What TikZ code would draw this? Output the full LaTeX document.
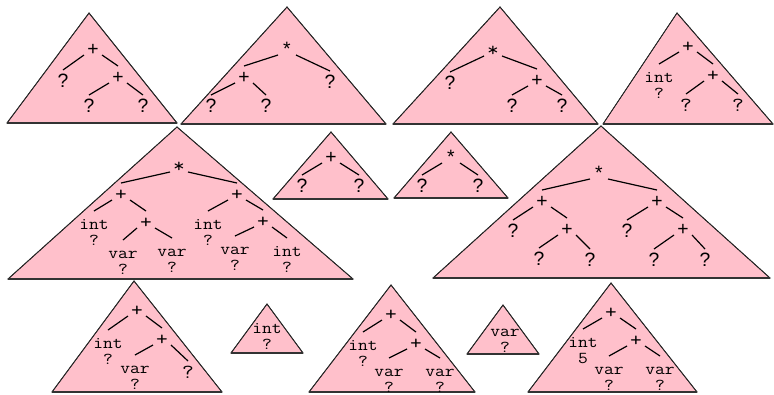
\documentclass[tikz,border=0pt]{standalone}
\usepackage{fontspec}
\setmainfont{Liberation Sans}
\newfontfamily\cour{Latin Modern Mono}[FakeStretch=1.14]
\definecolor{trifill}{RGB}{255,192,203}
\newcommand\tp{\rule{0pt}{8.4pt}}
\tikzset{
  x=0.75pt, y=-0.75pt,
  tri/.style={fill=trifill, draw=black!85, line width=0.6pt, line join=miter},
  base/.style={draw=black!80, line width=1.1pt},
  lab/.style={inner sep=0pt, text height=0.6em, text depth=0pt, anchor=center},
  s/.style={lab, font=\fontsize{14.5}{14.5}\selectfont},
  m/.style={lab, font=\cour\fontsize{15}{15}\selectfont},
  mst/.style={inner sep=0pt, anchor=north, align=center, font=\cour\fontsize{12.5}{12}\selectfont},
  edge/.style={draw=black, line width=0.9pt}
}
\newcommand\edgeL[2]{\draw[edge] ([shift={(-9,4)}]#1.center) -- ([shift={(0,-13)}]#2.center);}
\newcommand\edgeR[2]{\draw[edge] ([shift={(9,4)}]#1.center) -- ([shift={(0,-13)}]#2.center);}
\newcommand\edgeLs[2]{\draw[edge] ([shift={(-9,4)}]#1.center) -- ([shift={(0,-6.6)}]#2.north);}
\newcommand\edgeRs[2]{\draw[edge] ([shift={(9,4)}]#1.center) -- ([shift={(0,-6.6)}]#2.north);}
\newcommand\trig[3]{\fill[tri] #1 -- #2 -- #3 -- cycle; \draw[tri,fill=none] #2 -- #1 -- #3; \draw[base] #2 -- #3;}
\begin{document}
\begin{tikzpicture}
\useasboundingbox (0,0) rectangle (774,394);
% ---------- triangles ----------
\trig{(89,13)}{(7,123)}{(177,123)}
\trig{(287,7)}{(181,124)}{(386,124)}
\trig{(500,7)}{(393,124)}{(598,124)}
\trig{(677,13)}{(603,124)}{(773,124)}
\trig{(177,127)}{(8,279)}{(353,279)}
\trig{(331,132)}{(273,199)}{(388,199)}
\trig{(451,132)}{(394,198)}{(508,198)}
\trig{(601,126)}{(433,278)}{(770,278)}
\trig{(134,281)}{(52,392)}{(222,392)}
\trig{(267,304)}{(231,353)}{(303,353)}
\trig{(391,285)}{(309,392)}{(475,392)}
\trig{(503,305)}{(467,354)}{(539,354)}
\trig{(611,283)}{(528,392)}{(697,392)}
% ---------- T1 ----------
\node[s] (t1a) at (93,51) {+};
\node[s] (t1b) at (63,83) {?};
\node[s] (t1c) at (118,79) {+};
\node[s] (t1d) at (89,108) {?};
\node[s] (t1e) at (143,108) {?};
\edgeL{t1a}{t1b}\edgeR{t1a}{t1c}\edgeL{t1c}{t1d}\edgeR{t1c}{t1e}
% ---------- T2 ----------
\node[s] (t2a) at (287,51) {*};
\node[s] (t2b) at (244,79) {+};
\node[s] (t2c) at (330,84) {?};
\node[s] (t2d) at (211,108) {?};
\node[s] (t2e) at (266,108) {?};
\edgeL{t2a}{t2b}\edgeR{t2a}{t2c}\edgeL{t2b}{t2d}\edgeR{t2b}{t2e}
% ---------- T3 ----------
\node[m] (t3a) at (493,52) {*};
\node[s] (t3b) at (450,85) {?};
\node[s] (t3c) at (537,82) {+};
\node[s] (t3d) at (512,108) {?};
\node[s] (t3e) at (562,108) {?};
\edgeL{t3a}{t3b}\edgeR{t3a}{t3c}\edgeL{t3c}{t3d}\edgeR{t3c}{t3e}
% ---------- T4 ----------
\node[m] (t4a) at (688,48) {+};
\node[mst] (t4b) at (659,70.6) {\tp int\\?};
\node[m] (t4c) at (713,77) {+};
\node[m] (t4d) at (686,107) {?};
\node[m] (t4e) at (738,107) {?};
\edgeLs{t4a}{t4b}\edgeR{t4a}{t4c}\edgeL{t4c}{t4d}\edgeR{t4c}{t4e}
% ---------- B1 ----------
\node[m] (b1a) at (179,168) {*};
\node[m] (b1b) at (121,196) {+};
\node[m] (b1c) at (237,196) {+};
\node[mst] (b1d) at (94,217.6) {\tp int\\?};
\node[m] (b1e) at (146,224) {+};
\node[mst] (b1f) at (123,246.6) {\tp var\\?};
\node[mst] (b1g) at (172,244.6) {\tp var\\?};
\node[mst] (b1h) at (208,217.6) {\tp int\\?};
\node[m] (b1i) at (263,223) {+};
\node[mst] (b1j) at (235,242.6) {\tp var\\?};
\node[mst] (b1k) at (287,244.6) {\tp int\\?};
\edgeL{b1a}{b1b}\edgeR{b1a}{b1c}
\edgeLs{b1b}{b1d}\edgeR{b1b}{b1e}
\edgeLs{b1e}{b1f}\edgeRs{b1e}{b1g}
\edgeLs{b1c}{b1h}\edgeR{b1c}{b1i}
\edgeLs{b1i}{b1j}\edgeRs{b1i}{b1k}
% ---------- S1, S2 ----------
\node[s] (s1a) at (331,159) {+};
\node[s] (s1b) at (302,188) {?};
\node[s] (s1c) at (359,188) {?};
\edgeL{s1a}{s1b}\edgeR{s1a}{s1c}
\node[s] (s2a) at (451,159) {*};
\node[s] (s2b) at (422,188) {?};
\node[s] (s2c) at (478,188) {?};
\edgeL{s2a}{s2b}\edgeR{s2a}{s2c}
% ---------- B2 ----------
\node[s] (b2a) at (599,175) {*};
\node[s] (b2b) at (542,203) {+};
\node[s] (b2c) at (657,203) {+};
\node[s] (b2d) at (513,233) {?};
\node[s] (b2e) at (567,231) {+};
\node[s] (b2f) at (539,261) {?};
\node[s] (b2g) at (590,262) {?};
\node[s] (b2h) at (627,233) {?};
\node[s] (b2i) at (683,231) {+};
\node[s] (b2j) at (654,262) {?};
\node[s] (b2k) at (705,262) {?};
\edgeL{b2a}{b2b}\edgeR{b2a}{b2c}
\edgeL{b2b}{b2d}\edgeR{b2b}{b2e}
\edgeL{b2e}{b2f}\edgeR{b2e}{b2g}
\edgeL{b2c}{b2h}\edgeR{b2c}{b2i}
\edgeL{b2i}{b2j}\edgeR{b2i}{b2k}
% ---------- R1 ----------
\node[m] (r1a) at (137,312) {+};
\node[mst] (r1b) at (108,336.6) {\tp int\\?};
\node[m] (r1c) at (162,341) {+};
\node[mst] (r1d) at (135,361.6) {\tp var\\?};
\node[m] (r1e) at (188,374) {?};
\edgeLs{r1a}{r1b}\edgeR{r1a}{r1c}\edgeLs{r1c}{r1d}\edgeR{r1c}{r1e}
% ---------- R2 ----------
\node[mst] (r2a) at (267,321.6) {\tp int\\?};
% ---------- R3 ----------
\node[m] (r3a) at (391,316) {+};
\node[mst] (r3b) at (363,338.6) {\tp int\\?};
\node[m] (r3c) at (416,345) {+};
\node[mst] (r3d) at (389,364.6) {\tp var\\?};
\node[mst] (r3e) at (440,364.6) {\tp var\\?};
\edgeLs{r3a}{r3b}\edgeR{r3a}{r3c}\edgeLs{r3c}{r3d}\edgeRs{r3c}{r3e}
% ---------- R4 ----------
\node[mst] (r4a) at (505,324.6) {\tp var\\?};
% ---------- R5 ----------
\node[m] (r5a) at (611,314) {+};
\node[mst] (r5b) at (583,335.6) {\tp int\\5};
\node[m] (r5c) at (636,342) {+};
\node[mst] (r5d) at (609,362.6) {\tp var\\?};
\node[mst] (r5e) at (660,362.6) {\tp var\\?};
\edgeLs{r5a}{r5b}\edgeR{r5a}{r5c}\edgeLs{r5c}{r5d}\edgeRs{r5c}{r5e}
\end{tikzpicture}
\end{document}
